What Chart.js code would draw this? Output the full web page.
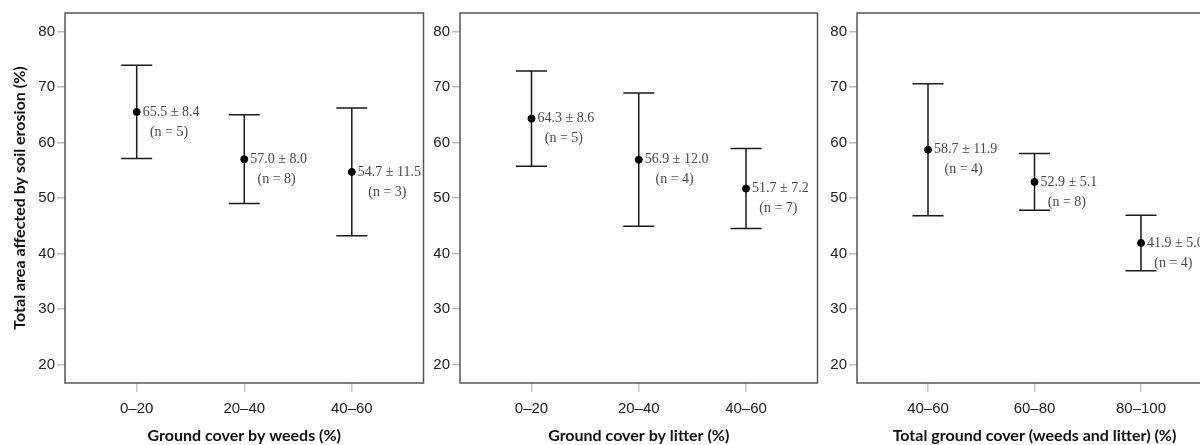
<!DOCTYPE html>
<html>
<head>
<meta charset="utf-8">
<script src="https://cdn.jsdelivr.net/npm/chart.js@4.4.1/dist/chart.umd.min.js"></script>
<style>
  html, body { margin: 0; padding: 0; background: #fff; overflow: hidden; }
  #wrap { position: relative; width: 1200px; height: 445px; overflow: hidden; }
  canvas { position: absolute; top: 0; }
</style>
</head>
<body>
<div id="wrap">
  <canvas id="weeds" width="428" height="445" style="left:0px"></canvas>
  <canvas id="litter" width="397" height="445" style="left:425px"></canvas>
  <canvas id="total" width="400" height="445" style="left:822px"></canvas>
</div>
<script>
// Datos de los tres paneles (media ± DE, n)
const yTicks = [20, 30, 40, 50, 60, 70, 80];

const weedsLabels = ['0–20', '20–40', '40–60'];
const weedsMean = [65.5, 57.0, 54.7];
const weedsSD = [8.4, 8.0, 11.5];
const weedsN = [5, 8, 3];

const litterLabels = ['0–20', '20–40', '40–60'];
const litterMean = [64.3, 56.9, 51.7];
const litterSD = [8.6, 12.0, 7.2];
const litterN = [5, 4, 7];

const totalLabels = ['40–60', '60–80', '80–100'];
const totalMean = [58.7, 52.9, 41.9];
const totalSD = [11.9, 5.1, 5.0];
const totalN = [4, 8, 4];

Chart.defaults.font.family = "'Liberation Sans', Arial, sans-serif";
Chart.defaults.color = '#222';

// Barras de error, marco y etiquetas de texto
const errorBarPlugin = {
    id: 'errorBars',
    beforeDatasetsDraw(chart) {
        const ctx = chart.ctx;
        const xs = chart.scales.x, ys = chart.scales.y;
        const p = chart.options.plugins.errorBars;
        ctx.save();
        ctx.strokeStyle = '#1a1a1a';
        ctx.lineWidth = 1.5;
        p.mean.forEach((m, i) => {
            const x = xs.getPixelForValue(i);
            const yHi = ys.getPixelForValue(m + p.sd[i]);
            const yLo = ys.getPixelForValue(m - p.sd[i]);
            ctx.beginPath();
            ctx.moveTo(x, yHi); ctx.lineTo(x, yLo);
            ctx.moveTo(x - 15.5, yHi); ctx.lineTo(x + 15.5, yHi);
            ctx.moveTo(x - 15.5, yLo); ctx.lineTo(x + 15.5, yLo);
            ctx.stroke();
        });
        ctx.restore();
    },
    afterDatasetsDraw(chart) {
        const ctx = chart.ctx;
        const xs = chart.scales.x, ys = chart.scales.y;
        const p = chart.options.plugins.errorBars;
        const area = chart.chartArea;
        ctx.save();
        ctx.font = "14px 'Liberation Serif', 'Times New Roman', serif";
        ctx.fillStyle = '#4a4a4a';
        ctx.textBaseline = 'middle';
        p.mean.forEach((m, i) => {
            const x = xs.getPixelForValue(i) + 6;
            const y = ys.getPixelForValue(m);
            const line1 = m.toFixed(1) + ' ± ' + p.sd[i].toFixed(1);
            const w = ctx.measureText(line1).width;
            ctx.textAlign = 'left';
            ctx.fillText(line1, x, y);
            ctx.textAlign = 'center';
            ctx.fillText('(n = ' + p.n[i] + ')', x + w / 2 - 2, y + 20);
        });
        // marco del área del gráfico
        ctx.strokeStyle = '#555';
        ctx.lineWidth = 1.5;
        ctx.strokeRect(area.left, area.top, area.right - area.left, area.bottom - area.top);
        ctx.restore();
    }
};

function makePanel(id, labels, mean, sd, n, xTitle, yTitle, yWidth, padRight) {
    const canvas = document.getElementById(id);
    if (!canvas) return;
    return new Chart(canvas.getContext('2d'), {
        type: 'scatter',
        data: {
            datasets: [{
                data: mean.map((m, i) => ({ x: i, y: m })),
                backgroundColor: '#000',
                borderColor: '#000',
                pointRadius: 3.5,
                pointHoverRadius: 3.5
            }]
        },
        plugins: [errorBarPlugin],
        options: {
            responsive: false,
            animation: false,
            events: [],
            layout: { padding: { top: 13, right: padRight, left: 0, bottom: 0 } },
            plugins: {
                legend: { display: false },
                tooltip: { enabled: false },
                errorBars: { mean: mean, sd: sd, n: n }
            },
            scales: {
                x: {
                    type: 'linear',
                    min: -2 / 3,
                    max: 2 + 2 / 3,
                    afterBuildTicks: s => { s.ticks = labels.map((l, i) => ({ value: i })); },
                    afterFit: s => { s.height = 62; },
                    border: { display: false },
                    grid: { drawOnChartArea: false, drawTicks: true, tickLength: 9, tickColor: '#c8c8c8', lineWidth: 1.5 },
                    ticks: {
                        padding: 8,
                        color: '#222',
                        font: { size: 15 },
                        maxRotation: 0,
                        callback: v => labels[v]
                    },
                    title: {
                        display: true,
                        text: xTitle,
                        color: '#111',
                        padding: { top: 0, bottom: 0 },
                        font: { family: "Lato, 'Open Sans', sans-serif", size: 16, weight: 'bold' }
                    }
                },
                y: {
                    min: 16 + 2 / 3,
                    max: 83 + 1 / 3,
                    afterBuildTicks: s => { s.ticks = yTicks.map(v => ({ value: v })); },
                    afterFit: s => { s.width = yWidth; },
                    border: { display: false },
                    grid: { drawOnChartArea: false, drawTicks: true, tickLength: 8, tickColor: '#bdbdbd', lineWidth: 1.5 },
                    ticks: { padding: 2, color: '#222', font: { size: 15 } },
                    title: {
                        display: !!yTitle,
                        text: yTitle || '',
                        color: '#111',
                        padding: { top: 10, bottom: 0 },
                        font: { family: "Lato, 'Open Sans', sans-serif", size: 16, weight: 'bold' }
                    }
                }
            }
        }
    });
}

makePanel('weeds', weedsLabels, weedsMean, weedsSD, weedsN,
    'Ground cover by weeds (%)', 'Total area affected by soil erosion (%)', 65, 2);
makePanel('litter', litterLabels, litterMean, litterSD, litterN,
    'Ground cover by litter (%)', null, 35, 4);
makePanel('total', totalLabels, totalMean, totalSD, totalN,
    'Total ground cover (weeds and litter) (%)', null, 35, 10);
</script>
</body>
</html>
